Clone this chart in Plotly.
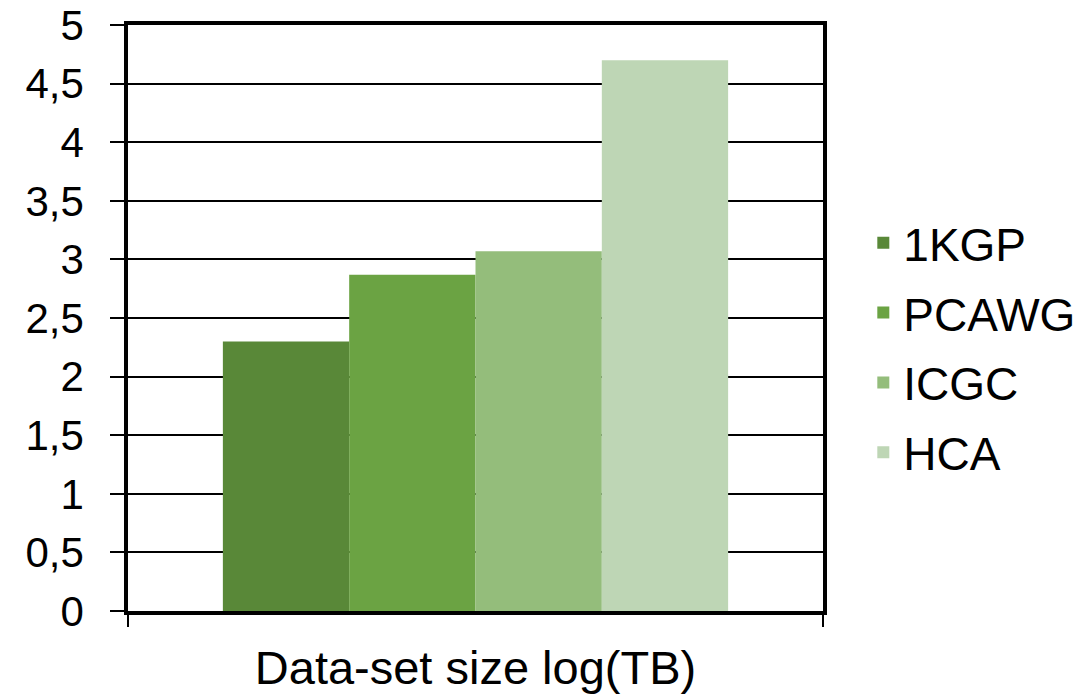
import plotly.graph_objects as go

series_names = ["1KGP", "PCAWG", "ICGC", "HCA"]
series_values = [2.3, 2.87, 3.07, 4.7]
series_colors = ["#598838", "#6BA343", "#94BD7B", "#BED6B5"]
category = ["Data-set size log(TB)"]
y_tickvals = [0, 0.5, 1, 1.5, 2, 2.5, 3, 3.5, 4, 4.5, 5]

FONT = "Liberation Sans, Arial, sans-serif"
FS = 46

fig = go.Figure()
for i, (name, val, col) in enumerate(zip(series_names, series_values, series_colors)):
    fig.add_trace(go.Bar(
        x=category, y=[val], name=name,
        marker=dict(color=col, line=dict(width=0)),
        legendgroup=name,
    ))

fig.update_layout(
    width=1090, height=694,
    margin=dict(l=128, r=267, t=25, b=83, autoexpand=False),
    paper_bgcolor="white", plot_bgcolor="white",
    barmode="group", bargap=0.273, bargroupgap=0,
    separators=",.",
    font=dict(family=FONT, size=FS, color="black"),
    showlegend=True,
    legend=dict(
        x=1.058, xanchor="left", y=0.449, yanchor="middle",
        font=dict(family=FONT, size=FS, color="black"),
        tracegroupgap=7, bgcolor="rgba(0,0,0,0)",
    ),
    xaxis=dict(
        type="category", automargin=False,
        showticklabels=False,
        ticks="outside", tickson="boundaries", ticklen=12, tickwidth=1.5, tickcolor="black",
        showline=True, linecolor="black", linewidth=3.5, mirror=True,
        showgrid=False,
        title=dict(text=category[0], font=dict(family=FONT, size=47, color="black"), standoff=38),
    ),
    yaxis=dict(
        range=[0, 5], tickvals=y_tickvals, automargin=False,
        ticks="outside", ticklen=14, tickwidth=1.5, tickcolor="black",
        showline=True, linecolor="black", linewidth=3.5, mirror=True,
        showgrid=True, gridcolor="black", gridwidth=2,
        zeroline=False,
        tickfont=dict(family=FONT, size=42, color="black"),
        ticklabelstandoff=18, ticklabeloverflow="allow",
    ),
)

fig.write_html("out.html", config={"displayModeBar": False},
               post_script="document.body.style.margin='0';")
